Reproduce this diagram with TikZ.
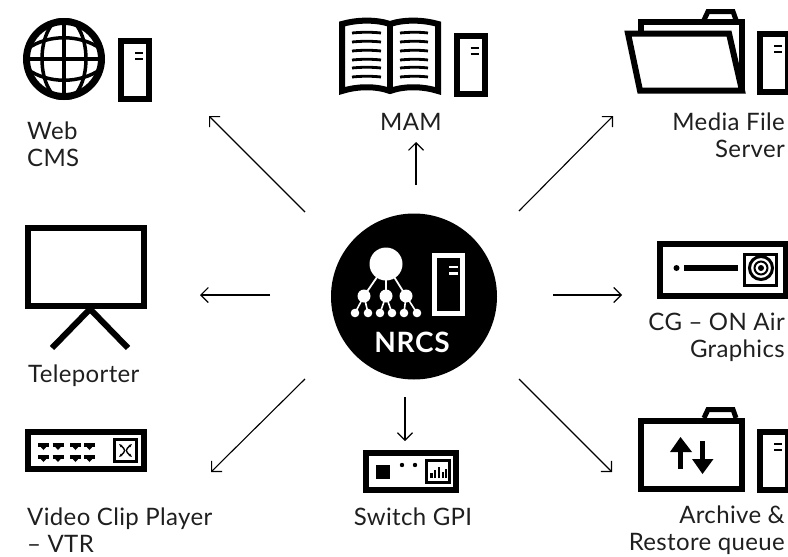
\documentclass[tikz,border=0pt]{standalone}
\usepackage{fontspec}
\setmainfont[LetterSpace=1.5]{Lato}
\usetikzlibrary{arrows.meta}
\tikzset{
  label/.style={inner sep=0pt,font=\fontsize{24}{27}\selectfont,text=black!88},
  tower/.pic={
    \draw[line width=6pt,fill=white] (3,3) rectangle (31,61);
    \draw[line width=2.5pt] (17,15) -- (25,15);
    \draw[line width=2.5pt] (17,21) -- (25,21);
  },
  flow/.style={line width=1.1pt,-{Straight Barb[length=7.5pt,width=15pt,angle'=90,line width=1.1pt]}},
}
\begin{document}
\begin{tikzpicture}[x=1pt,y=-1pt]
\useasboundingbox (0,0) rectangle (788,557);
% hub
\node[circle,fill=black,minimum size=166pt,inner sep=0pt] (nrcs) at (414,296.5) {};
\node[font=\fontsize{28}{28}\selectfont\bfseries\addfontfeature{LetterSpace=2.5},text=white,inner sep=0pt,anchor=base] (nrcstext) at (412,352) {NRCS};
\fill[white] (386,264) circle (16.5);
\foreach \x in {364,386,406} {
  \fill[white] (\x,296) circle (6.5);
  \draw[white,line width=1.8pt] (386,264) -- (\x,296);
}
\foreach \x/\y in {355/364,368/364,380/386,392/386,404/406,417/406} {
  \fill[white] (\x,313) circle (4.3);
  \draw[white,line width=1.6pt] (\x,313) -- (\y,296);
}
\draw[white,line width=5.5pt] (434.5,255.5) rectangle (462.5,313.5);
\draw[white,line width=2.5pt] (449,267) -- (458,267);
\draw[white,line width=2.5pt] (449,273.5) -- (458,273.5);
% web cms
\begin{scope}
\clip (64,59) circle (41);
\draw[line width=3.5pt] (64,59) ellipse (22 and 41);
\draw[line width=3.5pt] (64,18) -- (64,100);
\draw[line width=3.5pt] (23,59) -- (105,59);
\draw[line width=3.5pt] (27,49) .. controls (48,34) and (80,34) .. (101,49);
\draw[line width=3.5pt] (27,69) .. controls (48,84) and (80,84) .. (101,69);
\end{scope}
\draw[line width=7pt] (64,59) circle (37.5);
\pic at (118,38) {tower};
\node[label,anchor=base west] (web) at (27,139) {Web};
\node[label,anchor=base west] (cms) at (27,166) {CMS};
% mam
\draw[line width=6pt] (342,24) .. controls (358,19.5) and (376,19.5) .. (390,24) .. controls (404,19.5) and (422,19.5) .. (438,24)
  -- (438,91) .. controls (422,86) and (404,86) .. (390,91) .. controls (376,86) and (358,86) .. (342,91) -- cycle;
\draw[line width=6pt] (390,24) -- (390,91);
\foreach \y in {33,42,51,60,68,77} {
  \draw[line width=2.8pt] (352,\y) .. controls (362,\y-1) and (372,\y-1) .. (381,\y);
  \draw[line width=2.8pt] (400,\y) .. controls (410,\y-1) and (420,\y-1) .. (428,\y);
}
\pic at (453.5,33) {tower};
\node[label,anchor=base] (mam) at (411,130) {MAM};
% media file server
\draw[line width=5pt] (704,20) -- (708,11.5) -- (733,11.5) -- (736,20);
\draw[line width=5.5pt] (641,31) -- (641,22) -- (742,22) -- (742,91);
\draw[line width=6pt,fill=white,line join=miter] (628,33.5) -- (729,33.5) -- (742,90.5) -- (640,90.5) -- cycle;
\pic at (757,31) {tower};
\node[label,anchor=base east] (media) at (785,130) {Media File};
\node[label,anchor=base east] (server) at (785,157) {Server};
% teleporter
\draw[line width=6.5pt] (28,228) rectangle (144,306);
\draw[line width=6pt] (52,348) -- (90,309) -- (128,348);
\node[label,anchor=base west] (teleporter) at (28,382) {Teleporter};
% cg
\draw[line width=6pt] (660,244) rectangle (786,296);
\fill (676.5,268) circle (3);
\draw[line width=6pt] (684,268) -- (738,268);
\draw[line width=3.5pt] (744.5,254.5) rectangle (776.5,285.5);
\draw[line width=3pt] (761,268) circle (11.5);
\draw[line width=2pt] (761,268) circle (6.5);
\fill (761,268) circle (3);
\node[label,anchor=base east] (cg) at (785,330) {CG – ON Air};
\node[label,anchor=base east] (graphics) at (785,357) {Graphics};
% vtr
\draw[line width=6.5pt] (28,432) rectangle (144,469);
\foreach \x in {38,52.5,70,84} {
  \foreach \y in {445,457} {
    \draw[line width=3.5pt] (\x,\y) -- (\x+11,\y);
    \fill (\x+1,\y) -- (\x+10,\y) -- (\x+5.5,\y+5) -- cycle;
  }
}
\draw[line width=3.5pt] (114.5,439.5) rectangle (136.5,461.5);
\draw[line width=1.4pt,{Stealth[length=3.5pt]}-{Stealth[length=3.5pt]}] (119,444) .. controls (126,450) and (126,451) .. (119,457);
\draw[line width=1.4pt,{Stealth[length=3.5pt]}-{Stealth[length=3.5pt]}] (132,444) .. controls (125,450) and (125,451) .. (132,457);
\node[label,anchor=base west] (vtr) at (27,525) {Video Clip Player};
\node[label,anchor=base west] (vtrb) at (27,552) {– VTR};
% switch
\draw[line width=6pt] (366,453) rectangle (456,490);
\fill (376,465) rectangle (390,479);
\fill (402,465) circle (2.2);
\fill (415,465) circle (2.2);
\draw[line width=3.5pt] (426.5,460.5) rectangle (449.5,482.5);
\foreach \x/\y in {431.5/473,435/470,439/467,443/472,446/469} {
  \draw[line width=2.4pt] (\x,478) -- (\x,\y);
}
\node[label,anchor=base] (switch) at (413,525) {Switch GPI};
% archive
\draw[line width=5pt] (704,418) -- (708,409.5) -- (733,409.5) -- (736,418);
\draw[line width=6pt] (641,421) rectangle (742,489);
\draw[line width=5.5pt] (680.5,469) -- (680.5,448);
\fill (670,452) -- (680.5,437) -- (692,452) -- cycle;
\draw[line width=5.5pt] (702.5,441) -- (702.5,462);
\fill (692,459) -- (702.5,474) -- (713.5,459) -- cycle;
\pic at (757,429) {tower};
\node[label,anchor=base east] (archive) at (785,523) {Archive \&};
\node[label,anchor=base east] (restore) at (785,550) {Restore queue};
% connectors
\coordinate (webtip) at (209,116);
\coordinate (webfoot) at (305,212);
\coordinate (mamtip) at (416,142);
\coordinate (mamfoot) at (416,185);
\coordinate (mediatip) at (613,116);
\coordinate (mediafoot) at (519,211);
\coordinate (teletip) at (200,295);
\coordinate (telefoot) at (270,295);
\coordinate (cgtip) at (622,295);
\coordinate (cgfoot) at (553,295);
\coordinate (vtrtip) at (211,472);
\coordinate (vtrfoot) at (305,379);
\coordinate (switchtip) at (405,441);
\coordinate (switchfoot) at (405,397);
\coordinate (archivetip) at (612,472);
\coordinate (archivefoot) at (519,379);
\foreach \a in {web,mam,media,tele,cg,vtr,switch,archive} {
  \draw[flow] (\a foot) -- (\a tip);
}
\end{tikzpicture}
\end{document}
